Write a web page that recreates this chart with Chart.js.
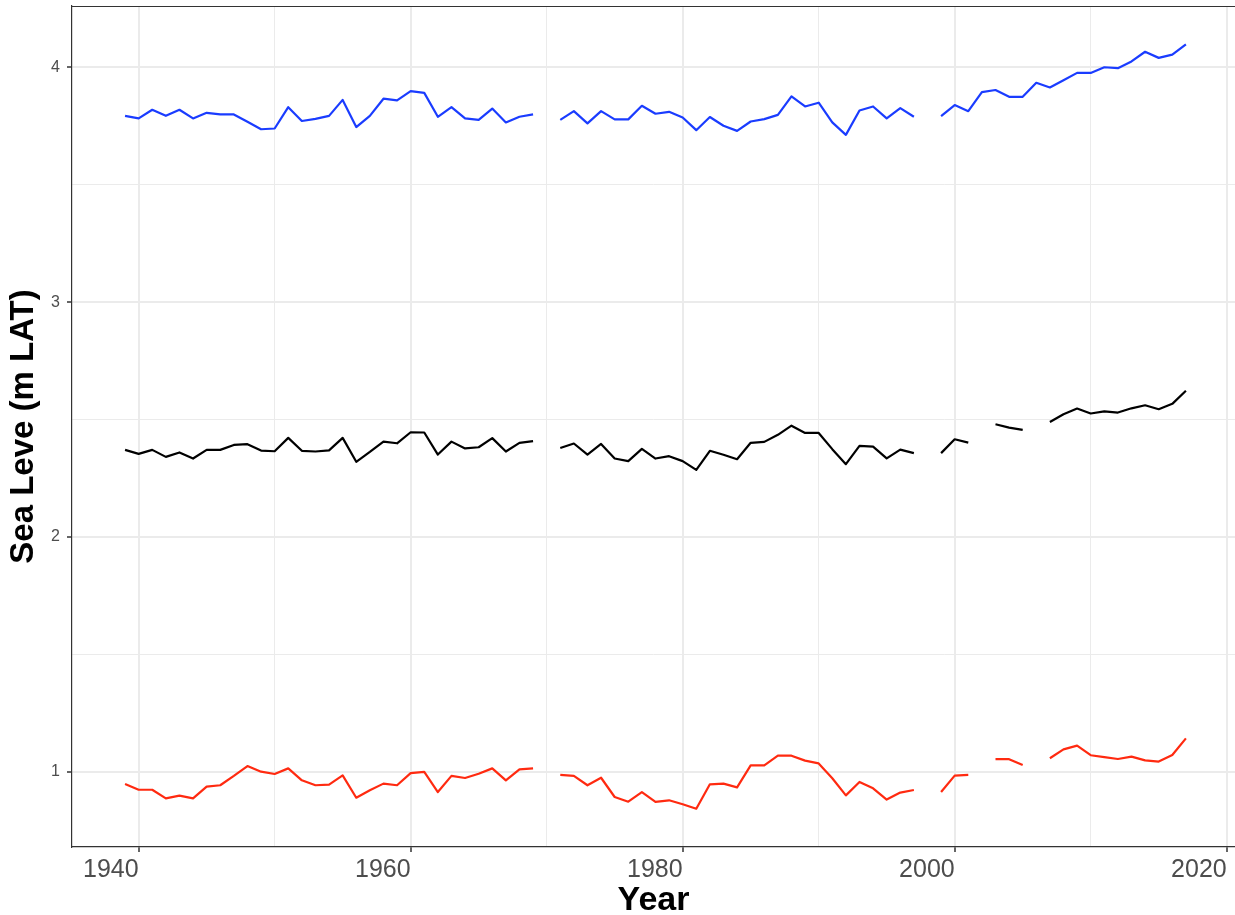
<!DOCTYPE html>
<html>
<head>
<meta charset="utf-8">
<script src="https://cdn.jsdelivr.net/npm/chart.js@4.4.0/dist/chart.umd.min.js"></script>
<style>
  html, body { margin: 0; padding: 0; background: #fff; overflow: hidden; }
</style>
</head>
<body>
<canvas id="chart" width="1235" height="915"></canvas>
<script>
// yearly sea level, m LAT (null = no data that year)
const years = [];
for (let y = 1939; y <= 2017; y++) years.push(y);

const highWater = [
  3.794, 3.783, 3.820, 3.794, 3.820, 3.783, 3.807, 3.800, 3.800, 3.769, 3.737,
  3.740, 3.831, 3.772, 3.781, 3.794, 3.862, 3.746, 3.794, 3.867, 3.860,
  3.899, 3.892, 3.790, 3.831, 3.783, 3.777, 3.825, 3.766, 3.790, 3.800,
  null, 3.777, 3.814, 3.762, 3.814, 3.779, 3.779, 3.837, 3.803, 3.811,
  3.787, 3.733, 3.789, 3.752, 3.730, 3.770, 3.780, 3.798, 3.877, 3.834,
  3.850, 3.766, 3.713, 3.817, 3.834, 3.783, 3.827, 3.790, null, 3.793,
  3.840, 3.814, 3.895, 3.904, 3.875, 3.875, 3.935, 3.915, 3.946, 3.977,
  3.977, 4.001, 3.997, 4.026, 4.067, 4.041, 4.055, 4.099
];

const meanLevel = [
  2.371, 2.354, 2.371, 2.341, 2.360, 2.334, 2.371, 2.371, 2.392, 2.395, 2.368,
  2.365, 2.422, 2.367, 2.364, 2.369, 2.422, 2.320, 2.362, 2.406, 2.399,
  2.446, 2.445, 2.351, 2.406, 2.377, 2.382, 2.421, 2.364, 2.401, 2.408,
  null, 2.379, 2.398, 2.351, 2.396, 2.334, 2.323, 2.375, 2.334, 2.344,
  2.323, 2.286, 2.367, 2.350, 2.331, 2.401, 2.405, 2.435, 2.474, 2.443,
  2.443, 2.374, 2.310, 2.388, 2.385, 2.335, 2.372, 2.357, null, 2.357,
  2.416, 2.402, null, 2.480, 2.466, 2.456, null, 2.490, 2.523, 2.547,
  2.526, 2.535, 2.530, 2.548, 2.561, 2.544, 2.567, 2.623
];

const lowWater = [
  0.947, 0.923, 0.923, 0.886, 0.898, 0.886, 0.936, 0.942, 0.982, 1.024, 1.000,
  0.990, 1.014, 0.963, 0.942, 0.945, 0.984, 0.889, 0.921, 0.949, 0.942,
  0.994, 0.999, 0.913, 0.982, 0.973, 0.991, 1.014, 0.963, 1.010, 1.014,
  null, 0.986, 0.982, 0.942, 0.974, 0.892, 0.872, 0.913, 0.871, 0.878,
  0.861, 0.842, 0.946, 0.949, 0.933, 1.027, 1.027, 1.068, 1.068, 1.047,
  1.035, 0.972, 0.899, 0.956, 0.929, 0.881, 0.911, 0.922, null, 0.913,
  0.983, 0.986, null, 1.053, 1.053, 1.028, null, 1.057, 1.095, 1.111,
  1.070, 1.062, 1.054, 1.064, 1.048, 1.043, 1.071, 1.142
];

// grid lines: major ones get a label, minor ones only a line
const xMajor = [1940, 1960, 1980, 2000, 2020];
const xMinor = [1950, 1970, 1990, 2010];
const yMajor = [1, 2, 3, 4];
const yMinor = [1.5, 2.5, 3.5];

function toPoints(values) {
  return years.map((yr, i) => ({ x: yr, y: values[i] }));
}

function sortedTicks(major, minor) {
  return major.concat(minor).sort((a, b) => a - b).map(v => ({ value: v }));
}

const fontFamily = '"Liberation Sans", Arial, Helvetica, sans-serif';

// ggplot style box round the panel (top edge; left and bottom come from the axes)
const panelBorder = {
  id: 'panelBorder',
  afterDatasetsDraw(chart) {
    const { ctx, chartArea } = chart;
    ctx.save();
    ctx.strokeStyle = '#333333';
    ctx.lineWidth = 1.2;
    ctx.beginPath();
    ctx.moveTo(chartArea.left, chartArea.top + 0.5);
    ctx.lineTo(chartArea.right, chartArea.top + 0.5);
    ctx.stroke();
    ctx.restore();
  }
};

const lineStyle = {
  borderWidth: 2.2,
  pointRadius: 0,
  tension: 0,
  spanGaps: false,
  borderJoinStyle: 'round',
  fill: false
};

new Chart(document.getElementById('chart').getContext('2d'), {
  type: 'line',
  data: {
    datasets: [
      Object.assign({ label: 'Low', data: toPoints(lowWater), borderColor: '#ff2a10' }, lineStyle),
      Object.assign({ label: 'Mean', data: toPoints(meanLevel), borderColor: '#000000' }, lineStyle),
      Object.assign({ label: 'High', data: toPoints(highWater), borderColor: '#1a3cff' }, lineStyle)
    ]
  },
  options: {
    responsive: false,
    animation: false,
    events: [],
    layout: { padding: { top: 6, left: 0, right: 0, bottom: 0 } },
    plugins: {
      legend: { display: false },
      tooltip: { enabled: false }
    },
    scales: {
      x: {
        type: 'linear',
        min: 1935.1,
        max: 2020.61,
        afterFit: (scale) => {
          scale.height = 68;
          scale.paddingLeft = 0;
          scale.paddingRight = 0;
        },
        afterBuildTicks: (scale) => { scale.ticks = sortedTicks(xMajor, xMinor); },
        ticks: {
          autoSkip: false,
          maxRotation: 0,
          align: 'end',
          padding: 3,
          color: '#4d4d4d',
          font: { family: fontFamily, size: 25 },
          callback: (v) => xMajor.includes(v) ? String(v) : ''
        },
        grid: {
          color: '#ebebeb',
          lineWidth: (ctx) => (ctx.tick && xMajor.includes(ctx.tick.value)) ? 2 : 1,
          tickColor: (ctx) => (ctx.tick && xMajor.includes(ctx.tick.value)) ? '#333333' : 'rgba(0,0,0,0)',
          tickLength: 5,
          tickWidth: 1.5
        },
        border: { color: '#333333', width: 1.2 },
        title: {
          display: true,
          text: 'Year',
          color: '#000000',
          font: { family: fontFamily, size: 34, weight: 'bold', lineHeight: 1 },
          padding: { top: 0, bottom: -3 }
        }
      },
      y: {
        type: 'linear',
        min: 0.679,
        max: 4.262,
        afterFit: (scale) => {
          scale.width = 72;
          scale.paddingTop = 0;
          scale.paddingBottom = 0;
        },
        afterBuildTicks: (scale) => { scale.ticks = sortedTicks(yMajor, yMinor); },
        ticks: {
          autoSkip: false,
          padding: 7,
          color: '#4d4d4d',
          font: { family: fontFamily, size: 16 },
          callback: (v) => yMajor.includes(v) ? String(v) : ''
        },
        grid: {
          color: '#ebebeb',
          lineWidth: (ctx) => (ctx.tick && yMajor.includes(ctx.tick.value)) ? 2 : 1,
          tickColor: (ctx) => (ctx.tick && yMajor.includes(ctx.tick.value)) ? '#333333' : 'rgba(0,0,0,0)',
          tickLength: 5,
          tickWidth: 1.5
        },
        border: { color: '#333333', width: 1.2 },
        title: {
          display: true,
          text: 'Sea Leve (m LAT)',
          color: '#000000',
          font: { family: fontFamily, size: 33, weight: 'bold', lineHeight: 1.2 },
          padding: { top: 4, bottom: 0 }
        }
      }
    }
  },
  plugins: [panelBorder]
});
</script>
</body>
</html>
